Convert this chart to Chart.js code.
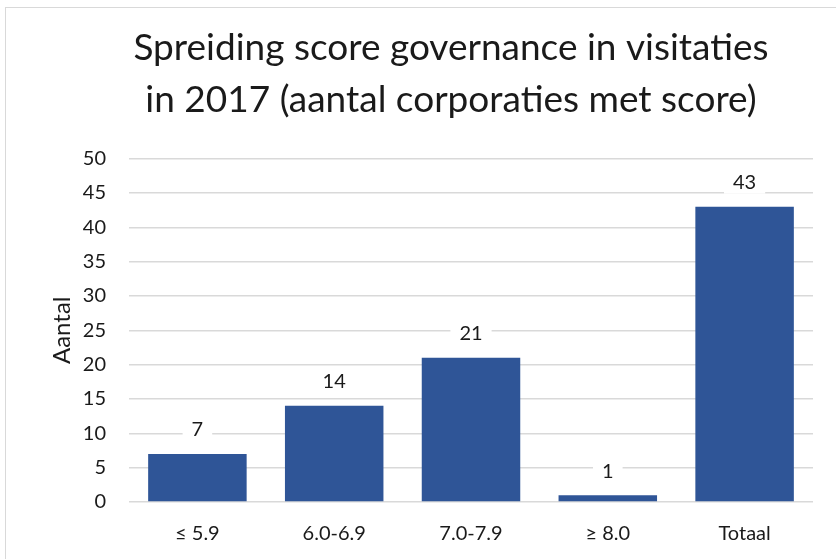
<!DOCTYPE html>
<html lang="nl">
<head>
<meta charset="UTF-8">
<title>Spreiding score governance</title>
<script src="https://cdn.jsdelivr.net/npm/chart.js"></script>
<style>
    html, body { margin: 0; padding: 0; background: #fff; overflow: hidden; width: 836px; height: 559px; }
    #frame { position: absolute; left: 5px; top: 7px; width: 860px; height: 580px; border: 1px solid #d9d9d9; }
    #wrap { position: absolute; left: 0; top: 0; width: 854px; height: 559px; }
</style>
</head>
<body>
<div id="frame"></div>
<div id="wrap"><canvas id="scoreChart"></canvas></div>

<script>
    // data
    const categories = ['≤ 5.9', '6.0-6.9', '7.0-7.9', '≥ 8.0', 'Totaal'];
    const counts = [7, 14, 21, 1, 43];
    const titleLines = ['Spreiding score governance in visitaties', 'in 2017 (aantal corporaties met score)'];
    const yTicks = [0, 5, 10, 15, 20, 25, 30, 35, 40, 45, 50];

    const fontFamily = 'Lato, "Open Sans", sans-serif';
    const textColor = '#1a1a1a';

    // values above the bars, on a white box over the gridlines
    const barLabels = {
        id: 'barLabels',
        afterDatasetsDraw(chart) {
            const ctx = chart.ctx;
            const meta = chart.getDatasetMeta(0);
            ctx.save();
            ctx.font = '20px ' + fontFamily;
            ctx.textAlign = 'center';
            ctx.textBaseline = 'middle';
            meta.data.forEach((bar, i) => {
                const txt = String(counts[i]);
                const w = ctx.measureText(txt).width + 18;
                const y = bar.y - 25;
                ctx.fillStyle = '#fff';
                ctx.fillRect(bar.x - w / 2, y - 12, w, 24);
                ctx.fillStyle = textColor;
                ctx.fillText(txt, bar.x, y + 1);
            });
            ctx.restore();
        }
    };

    const ctx = document.getElementById('scoreChart').getContext('2d');
    new Chart(ctx, {
        type: 'bar',
        data: {
            labels: categories,
            datasets: [{
                label: 'Aantal',
                data: counts,
                backgroundColor: '#2F5597',
                borderWidth: 0,
                barPercentage: 0.72,
                categoryPercentage: 1
            }]
        },
        options: {
            responsive: true,
            maintainAspectRatio: false,
            animation: false,
            layout: { padding: { left: 48, right: 0, top: 0, bottom: 0 } },
            plugins: {
                legend: { display: false },
                tooltip: { enabled: false },
                title: {
                    display: true,
                    text: titleLines,
                    color: textColor,
                    font: { family: fontFamily, size: 37, weight: 'normal', lineHeight: 1.4 },
                    padding: { top: 22, bottom: 33 }
                }
            },
            scales: {
                x: {
                    afterFit(scale) { scale.height = 57; },
                    grid: { display: false },
                    border: { display: false },
                    ticks: { color: textColor, padding: 12, font: { family: fontFamily, size: 20 } }
                },
                y: {
                    min: 0,
                    max: 50,
                    afterFit(scale) { scale.width = 81; },
                    afterBuildTicks(scale) { scale.ticks = yTicks.map(v => ({ value: v })); },
                    grid: { color: '#d9d9d9', lineWidth: 1.5, drawTicks: false },
                    border: { display: false },
                    ticks: { color: textColor, padding: 23, font: { family: fontFamily, size: 20 } },
                    title: {
                        display: true,
                        text: 'Aantal',
                        color: textColor,
                        padding: 0,
                        font: { family: fontFamily, size: 24 }
                    }
                },
                // empty right-hand strip so the title centres like the original
                spacer: {
                    type: 'linear',
                    position: 'right',
                    afterFit(scale) { scale.width = 41; },
                    grid: { display: false },
                    border: { display: false },
                    ticks: { display: false }
                }
            }
        },
        plugins: [barLabels]
    });
</script>
</body>
</html>
